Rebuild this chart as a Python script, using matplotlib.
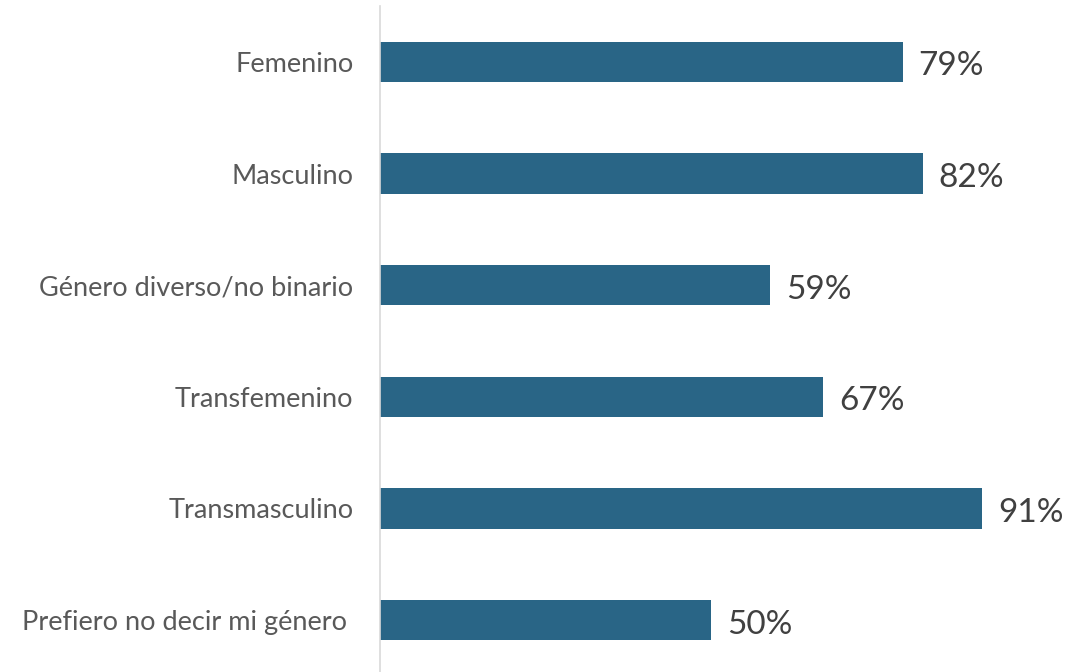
import matplotlib
matplotlib.use("Agg")
import matplotlib.pyplot as plt

categories = ["Femenino", "Masculino", "Género diverso/no binario",
              "Transfemenino", "Transmasculino", "Prefiero no decir mi género "]
values = [79, 82, 59, 67, 91, 50]
value_labels = ["79%", "82%", "59%", "67%", "91%", "50%"]

plt.rcParams['font.family'] = ['Lato', 'DejaVu Sans']

fig = plt.figure(figsize=(10.88, 6.72), dpi=100)
ax = fig.add_axes([380/1088, -4/672, 708/1088, 670/672])

y = list(range(len(categories)))
ax.barh(y, values, height=0.36, color="#296586", edgecolor="none")
ax.set_ylim(len(categories) - 0.5, -0.5)
ax.set_xlim(0, 107)

for yi, v, lab in zip(y, values, value_labels):
    ax.text(v + 2.4, yi + 0.04, lab, va="center", ha="left", fontsize=24, color="#404040")

ax.set_yticks(y)
ax.set_yticklabels(categories, fontsize=19.5, color="#595959")
ax.tick_params(axis="y", length=0, pad=19)
ax.set_xticks([])
for s in ["top", "right", "bottom"]:
    ax.spines[s].set_visible(False)
ax.spines["left"].set_color("#D9D9D9")
ax.spines["left"].set_linewidth(1.2)

fig.savefig("out.png", dpi=100)
